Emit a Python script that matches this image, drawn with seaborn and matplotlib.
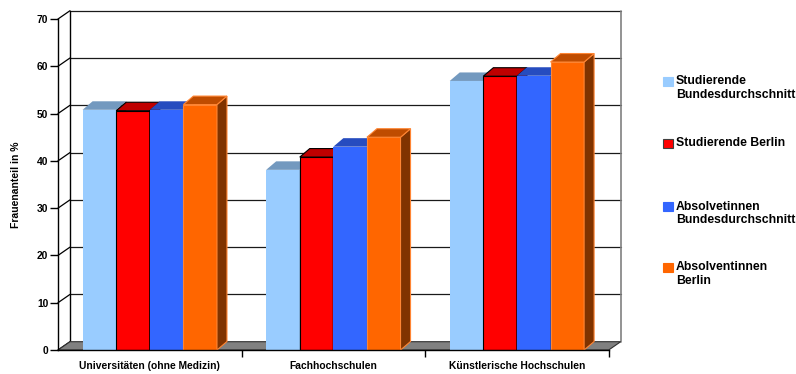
import matplotlib
matplotlib.use("Agg")
import matplotlib.pyplot as plt
from matplotlib.patches import Polygon, Rectangle
import pandas as pd
import seaborn as sns

# --- data -------------------------------------------------------------
categories = ["Universitäten (ohne Medizin)", "Fachhochschulen", "Künstlerische Hochschulen"]
series = [
    "Studierende\nBundesdurchschnitt",
    "Studierende Berlin",
    "Absolvetinnen\nBundesdurchschnitt",
    "Absolventinnen\nBerlin",
]
studierende_bund = [50.8, 38.1, 56.9]
studierende_berlin = [50.6, 40.8, 57.9]
absolventinnen_bund = [50.8, 43.0, 58.0]
absolventinnen_berlin = [51.9, 45.0, 60.9]
y_ticks = [0, 10, 20, 30, 40, 50, 60, 70]
y_label = "Frauenanteil in %"

# --- style ------------------------------------------------------------
front_colors = ["#99CCFF", "#FF0000", "#3366FF", "#FF6600"]
top_colors = ["#7399BF", "#BF0000", "#264CBF", "#BF4C00"]
side_colors = ["#4D6680", "#800000", "#1A3380", "#803300"]
edge_colors = ["#99CCFF", "#000000", "#3366FF", "#FF8533"]

sns.set_style("white")
plt.rcParams["font.family"] = ["Liberation Sans", "DejaVu Sans"]
plt.rcParams["font.weight"] = "bold"
plt.rcParams["text.color"] = "#000000"
plt.rcParams["axes.labelcolor"] = "#000000"
plt.rcParams["xtick.color"] = "#000000"
plt.rcParams["ytick.color"] = "#000000"

values = [studierende_bund, studierende_berlin, absolventinnen_bund, absolventinnen_berlin]
df = pd.DataFrame(
    [(c, s, v[i]) for s, v in zip(series, values) for i, c in enumerate(categories)],
    columns=["Hochschulart", "Gruppe", "Anteil"],
)

W, H = 796, 374
fig = plt.figure(figsize=(W / 100, H / 100), dpi=100)
ax_l, ax_b, ax_w, ax_h = 58, 24, 550.7, 331
ax = fig.add_axes([ax_l / W, ax_b / H, ax_w / W, ax_h / H])

sns.barplot(
    data=df, x="Hochschulart", y="Anteil", hue="Gruppe",
    order=categories, hue_order=series, palette=front_colors,
    width=0.732, saturation=1, legend=False, ax=ax,
)

XMIN, XMAX, YMAX = -0.5, len(categories) - 0.5, 70
ax.set_xlim(XMIN, XMAX)
ax.set_ylim(0, YMAX)
sx = (XMAX - XMIN) / ax_w   # data units per pixel
sy = YMAX / ax_h

# depth offsets (pixels) of the back wall and of the columns
wx, wy = 12 * sx, 8.3 * sy
bx, by = 10 * sx, 8.5 * sy

# back wall grid and side-wall diagonals
for v in y_ticks:
    if v > 0:
        ax.plot([XMIN + wx, XMAX + wx], [v + wy, v + wy], color="#1a1a1a",
                lw=0.9, clip_on=False, zorder=1)
    ax.plot([XMIN, XMIN + wx], [v, v + wy], color="#000000", lw=0.9,
            clip_on=False, zorder=1)
ax.plot([XMIN + wx] * 2, [wy, YMAX + wy], color="#000000", lw=1.0, clip_on=False, zorder=1)
ax.plot([XMAX + wx] * 2, [wy, YMAX + wy], color="#808080", lw=1.2, clip_on=False, zorder=1)

# floor
ax.add_patch(Polygon([(XMIN, 0), (XMAX, 0), (XMAX + wx, wy), (XMIN + wx, wy)],
                     closed=True, fc="#808080", ec="#303030", lw=0.8,
                     clip_on=False, zorder=2))

# column faces
for j, cont in enumerate(ax.containers):
    for bar in cont:
        x0, w, h = bar.get_x(), bar.get_width(), bar.get_height()
        bar.set_zorder(3 + j)
        bar.set_edgecolor(edge_colors[j])
        bar.set_linewidth(0.8 if j in (1, 3) else 0.0)
        top = Polygon([(x0, h), (x0 + w, h), (x0 + w + bx, h + by), (x0 + bx, h + by)],
                      closed=True, fc=top_colors[j], ec=edge_colors[j],
                      lw=0.8 if j in (1, 3) else 0.0, zorder=3.5 + j, clip_on=False)
        side = Polygon([(x0 + w, 0), (x0 + w, h), (x0 + w + bx, h + by), (x0 + w + bx, by)],
                       closed=True, fc=side_colors[j], ec=edge_colors[j],
                       lw=0.8 if j in (1, 3) else 0.0, zorder=3.5 + j, clip_on=False)
        ax.add_patch(side)
        ax.add_patch(top)

# axes frame and ticks
ax.patch.set_visible(False)
for s in ("top", "right"):
    ax.spines[s].set_visible(False)
for s in ("left", "bottom"):
    ax.spines[s].set_color("#000000")
    ax.spines[s].set_linewidth(1.0)
    ax.spines[s].set_zorder(10)

ax.set_yticks(y_ticks)
ax.tick_params(axis="y", length=6, width=1, color="#000000", pad=1,
               labelsize=7.4, labelcolor="#000000", left=True)
ax.set_xticks([0.5, 1.5, 2.5])
ax.set_xticklabels([])
ax.set_xticks(range(len(categories)), minor=True)
ax.set_xticklabels(categories, minor=True)
ax.tick_params(axis="x", which="major", length=5, width=1, color="#000000", bottom=True)
ax.tick_params(axis="x", which="minor", length=0, pad=8, labelsize=7.4,
               labelcolor="#000000")
ax.set_xlabel("")
ax.set_ylabel(y_label, fontsize=7.5, fontweight="bold", color="#000000")
ax.yaxis.set_label_coords((21 - ax_l) / ax_w, 0.5)
ax.grid(False)

# legend
leg_y = [81, 143, 206, 267]
for j, (name, yc) in enumerate(zip(series, leg_y)):
    fig.patches.append(Rectangle(((663) / W, 1 - (yc + 4.5) / H), 9.5 / W, 9 / H,
                                 transform=fig.transFigure, fc=front_colors[j],
                                 ec="#404040" if j == 1 else front_colors[j], lw=0.8))
    fig.text(676 / W, 1 - (yc - 5.5) / H, name, fontsize=8.8, fontweight="bold",
             va="top", ha="left", linespacing=1.15, color="#000000")

fig.savefig("out.png", dpi=100, facecolor="white")
